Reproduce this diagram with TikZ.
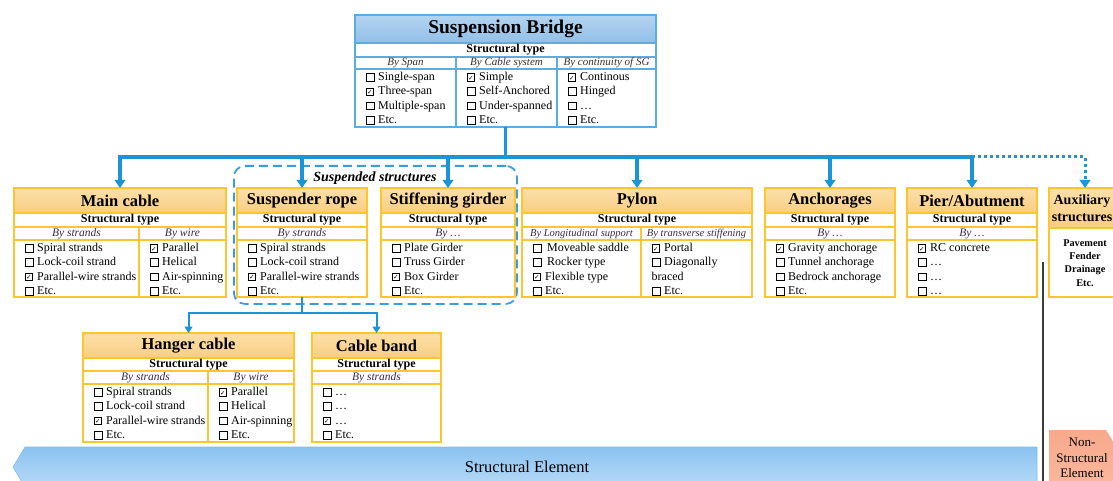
\documentclass[tikz,border=0pt]{standalone}
\usepackage{fontspec}
\setmainfont{Liberation Serif}
\newfontfamily\symf{DejaVu Sans}
\usetikzlibrary{arrows.meta,calc}

\definecolor{ybord}{HTML}{FFC52E}
\definecolor{otop}{HTML}{FCE0A8}
\definecolor{obot}{HTML}{F8CD82}
\definecolor{bbord}{HTML}{5AACE3}
\definecolor{btop}{HTML}{B3D4F0}
\definecolor{bbot}{HTML}{92BFE8}
\definecolor{conn}{HTML}{1B95D8}
\definecolor{dblue}{HTML}{3A9CDD}
\definecolor{setop}{HTML}{8AC2F0}
\definecolor{sebot}{HTML}{B8DBF7}
\definecolor{sebord}{HTML}{7DBDED}
\definecolor{saltop}{HTML}{F8A98B}
\definecolor{salbot}{HTML}{FBC0A8}
\definecolor{sepgray}{HTML}{3C3C3C}
\definecolor{subtxt}{HTML}{333333}

% check boxes
\newcommand\boxglyph[2]{\raisebox{-0.3pt}{\fboxsep=0pt\fboxrule=#1\fbox{\makebox[6.8pt]{\rule{0pt}{6.8pt}#2}}}}
\newcommand\bx{\makebox[12.5pt][l]{\boxglyph{1pt}{}}}
\newcommand\ck{\makebox[12.5pt][l]{\boxglyph{0.75pt}{\symf\fontsize{6.5}{6.5}\selectfont\raisebox{0.7pt}{✓}}}}

% one entry per line inside a cell
\newcommand\itemlist[2]{%
  \foreach \t [count=\i] in {#2}
    \node[itm] (#1-\i) at ($(#1.north west)+(10.5,{11.5+14.3*(\i-1)})$) {\t};}

\tikzset{
  sz/.style 2 args={minimum width=#1, minimum height=#2, anchor=north west},
  ybox/.style={draw=ybord, line width=1.2pt, inner sep=0pt, outer sep=0pt},
  ytitle/.style={ybox, top color=otop, bottom color=obot,
    font=\bfseries\fontsize{16.5}{18}\selectfont},
  ystrow/.style={ybox, fill=white, font=\bfseries\fontsize{12}{13}\selectfont},
  yshrow/.style={ybox, fill=white, text=subtxt, font=\itshape\fontsize{11.5}{12}\selectfont},
  ycell/.style={ybox, fill=white},
  bbox/.style={draw=bbord, line width=1.2pt, inner sep=0pt, outer sep=0pt},
  btitle/.style={bbox, top color=btop, bottom color=bbot,
    font=\bfseries\fontsize{19.5}{21}\selectfont},
  bstrow/.style={bbox, fill=white, font=\bfseries\fontsize{12}{13}\selectfont},
  bshrow/.style={bbox, fill=white, text=subtxt, font=\itshape\fontsize{11}{12}\selectfont},
  bcell/.style={bbox, fill=white},
  itm/.style={anchor=base west, inner sep=0pt, font=\fontsize{12}{13}\selectfont},
  feed/.style={draw=conn, line width=3.2pt, -{Triangle[width=10.5pt,length=8pt]}},
  subfeed/.style={draw=conn, line width=2pt, -{Triangle[width=8pt,length=6.5pt]}},
  dotfeed/.style={draw=conn, line width=3pt, dash pattern=on 3pt off 3pt,
    -{Triangle[width=10.5pt,length=8pt]}},
  groupbox/.style={draw=dblue, line width=1.8pt, dash pattern=on 9pt off 5pt,
    rounded corners=11pt, inner sep=0pt},
}

\begin{document}
\begin{tikzpicture}[x=1pt,y=-1pt]
\useasboundingbox (0,0) rectangle (1113,481);
\clip (0,0) rectangle (1113,481);

% ---------- suspended structures group ----------
\node[groupbox, sz={283}{138}] (susp) at (233,165) {};
\node[font=\bfseries\itshape\fontsize{14}{14}\selectfont, inner sep=1pt] (susp-l) at (375,178) {Suspended structures};

% ---------- Suspension Bridge ----------
\node[bbox, sz={301}{112}] (sb) at (355,15) {};
\node[btitle, sz={301}{28}] (sb-t) at (sb.north west) {Suspension Bridge};
\node[bstrow, sz={301}{14}] (sb-s) at (sb-t.south west) {Structural type};
\node[bshrow, sz={101}{12}] (sb-h1) at (sb-s.south west) {By Span};
\node[bshrow, sz={101}{12}] (sb-h2) at (sb-h1.north east) {By Cable system};
\node[bshrow, sz={99}{12}] (sb-h3) at (sb-h2.north east) {By continuity of SG};
\node[bcell, sz={101}{58}] (sb-c1) at (sb-h1.south west) {};
\node[bcell, sz={101}{58}] (sb-c2) at (sb-h2.south west) {};
\node[bcell, sz={99}{58}] (sb-c3) at (sb-h3.south west) {};
\itemlist{sb-c1}{\bx Single-span, \ck Three-span, \bx Multiple-span, \bx Etc.}
\itemlist{sb-c2}{\ck Simple, \bx Self-Anchored, \bx Under-spanned, \bx Etc.}
\itemlist{sb-c3}{\ck Continous, \bx Hinged, \bx …, \bx Etc.}

% ---------- Main cable ----------
\node[ybox, sz={212}{109}] (mc) at (14,188) {};
\node[ytitle, sz={212}{25}] (mc-t) at (mc.north west) {Main cable};
\node[ystrow, sz={212}{14}] (mc-s) at (mc-t.south west) {Structural type};
\node[yshrow, sz={125}{13}] (mc-h1) at (mc-s.south west) {By strands};
\node[yshrow, sz={87}{13}] (mc-h2) at (mc-h1.north east) {By wire};
\node[ycell, sz={125}{57}] (mc-c1) at (mc-h1.south west) {};
\node[ycell, sz={87}{57}] (mc-c2) at (mc-h2.south west) {};
\itemlist{mc-c1}{\bx Spiral strands, \bx Lock-coil strand, \ck Parallel-wire strands, \bx Etc.}
\itemlist{mc-c2}{\ck Parallel, \bx Helical, \bx Air-spinning, \bx Etc.}

% ---------- Suspender rope ----------
\node[ybox, sz={130}{109}] (sr) at (237,188) {};
\node[ytitle, sz={130}{25}] (sr-t) at (sr.north west) {Suspender rope};
\node[ystrow, sz={130}{14}] (sr-s) at (sr-t.south west) {Structural type};
\node[yshrow, sz={130}{13}] (sr-h1) at (sr-s.south west) {By strands};
\node[ycell, sz={130}{57}] (sr-c1) at (sr-h1.south west) {};
\itemlist{sr-c1}{\bx Spiral strands, \bx Lock-coil strand, \ck Parallel-wire strands, \bx Etc.}

% ---------- Stiffening girder ----------
\node[ybox, sz={134}{109}] (sg) at (381,188) {};
\node[ytitle, sz={134}{25}] (sg-t) at (sg.north west) {Stiffening girder};
\node[ystrow, sz={134}{14}] (sg-s) at (sg-t.south west) {Structural type};
\node[yshrow, sz={134}{13}] (sg-h1) at (sg-s.south west) {By …};
\node[ycell, sz={134}{57}] (sg-c1) at (sg-h1.south west) {};
\itemlist{sg-c1}{\bx Plate Girder, \bx Truss Girder, \ck Box Girder, \bx Etc.}

% ---------- Pylon ----------
\node[ybox, sz={230}{109}] (py) at (522,188) {};
\node[ytitle, sz={230}{25}] (py-t) at (py.north west) {Pylon};
\node[ystrow, sz={230}{14}] (py-s) at (py-t.south west) {Structural type};
\node[yshrow, sz={119}{13}, font=\itshape\fontsize{10.5}{12}\selectfont] (py-h1) at (py-s.south west) {By Longitudinal support};
\node[yshrow, sz={111}{13}, font=\itshape\fontsize{10.5}{12}\selectfont] (py-h2) at (py-h1.north east) {By transverse stiffening};
\node[ycell, sz={119}{57}] (py-c1) at (py-h1.south west) {};
\node[ycell, sz={111}{57}] (py-c2) at (py-h2.south west) {};
\itemlist{py-c1}{\bx\hspace{2pt}Moveable saddle, \bx\hspace{2pt}Rocker type, \ck Flexible type, \bx Etc.}
\itemlist{py-c2}{\ck Portal, \bx Diagonally, braced, \bx Etc.}

% ---------- Anchorages ----------
\node[ybox, sz={130}{109}] (an) at (765,188) {};
\node[ytitle, sz={130}{25}] (an-t) at (an.north west) {Anchorages};
\node[ystrow, sz={130}{14}] (an-s) at (an-t.south west) {Structural type};
\node[yshrow, sz={130}{13}] (an-h1) at (an-s.south west) {By …};
\node[ycell, sz={130}{57}] (an-c1) at (an-h1.south west) {};
\itemlist{an-c1}{\ck Gravity anchorage, \bx Tunnel anchorage, \bx Bedrock anchorage, \bx Etc.}

% ---------- Pier/Abutment ----------
\node[ybox, sz={130}{109}] (pa) at (907,188) {};
\node[ytitle, sz={130}{25}] (pa-t) at (pa.north west) {Pier/Abutment};
\node[ystrow, sz={130}{14}] (pa-s) at (pa-t.south west) {Structural type};
\node[yshrow, sz={130}{13}] (pa-h1) at (pa-s.south west) {By …};
\node[ycell, sz={130}{57}] (pa-c1) at (pa-h1.south west) {};
\itemlist{pa-c1}{\ck RC concrete, \bx …, \bx …, \bx …}

% ---------- Auxiliary structures ----------
\node[ybox, sz={72}{109}] (ax) at (1049,188) {};
\node[ybox, top color=otop, bottom color=obot, sz={72}{40}] (ax-t) at (ax.north west) {};
\node[align=center, inner sep=0pt, font=\bfseries\fontsize{14}{16.5}\selectfont] (ax-tl) at ($(ax-t.center)+(-3,0)$) {Auxiliary\\structures};
\node[ycell, sz={72}{69}] (ax-c1) at (ax-t.south west) {};
\node[align=center, inner sep=0pt, font=\bfseries\fontsize{10.3}{13.3}\selectfont] (ax-l) at ($(ax-c1.north)+(0,35)$) {Pavement\\Fender\\Drainage\\Etc.};

% ---------- Hanger cable ----------
\node[ybox, sz={211}{109}] (hc) at (83,333) {};
\node[ytitle, sz={211}{25}] (hc-t) at (hc.north west) {Hanger cable};
\node[ystrow, sz={211}{13}] (hc-s) at (hc-t.south west) {Structural type};
\node[yshrow, sz={125}{13}] (hc-h1) at (hc-s.south west) {By strands};
\node[yshrow, sz={86}{13}] (hc-h2) at (hc-h1.north east) {By wire};
\node[ycell, sz={125}{58}] (hc-c1) at (hc-h1.south west) {};
\node[ycell, sz={86}{58}] (hc-c2) at (hc-h2.south west) {};
\itemlist{hc-c1}{\bx Spiral strands, \bx Lock-coil strand, \ck Parallel-wire strands, \bx Etc.}
\itemlist{hc-c2}{\ck Parallel, \bx Helical, \bx Air-spinning, \bx Etc.}

% ---------- Cable band ----------
\node[ybox, sz={129}{109}] (cb) at (312,333) {};
\node[ytitle, sz={129}{25}] (cb-t) at (cb.north west) {Cable band};
\node[ystrow, sz={129}{13}] (cb-s) at (cb-t.south west) {Structural type};
\node[yshrow, sz={129}{13}] (cb-h1) at (cb-s.south west) {By strands};
\node[ycell, sz={129}{58}] (cb-c1) at (cb-h1.south west) {};
\itemlist{cb-c1}{\bx …, \bx …, \ck …, \bx Etc.}

% ---------- connectors ----------
\foreach \target in {mc, sr, sg, py, an, pa}
  \draw[feed] (sb.south) -- ++(0,30) -| (\target.north);
\draw[dotfeed] (pa.north) ++(0,-31) -| (ax.north);
\draw[subfeed] (sr.south) -- ++(0,16) -| (hc.north);
\draw[subfeed] (sr.south) -- ++(0,16) -| (cb.north);

% ---------- structural / non-structural bands ----------
\shade[top color=setop, bottom color=sebot, draw=sebord, line width=0.6pt]
  (1037,447) -- (25,447) -- (13,467) -- (25,487) -- (1037,487) -- cycle;
\node[font=\fontsize{16.5}{18}\selectfont] (se) at (527,467) {Structural Element};

\draw[sepgray, line width=1.6pt] (1043,262) -- (1043,481);

\shade[top color=saltop, bottom color=salbot]
  (1049,430) -- (1106,430) -- (1134,475) -- (1106,520) -- (1049,520) -- cycle;
\node[align=center, font=\fontsize{13}{15.5}\selectfont, inner sep=0pt] (nse) at (1082,458) {Non-\\Structural\\Element};
\end{tikzpicture}
\end{document}
